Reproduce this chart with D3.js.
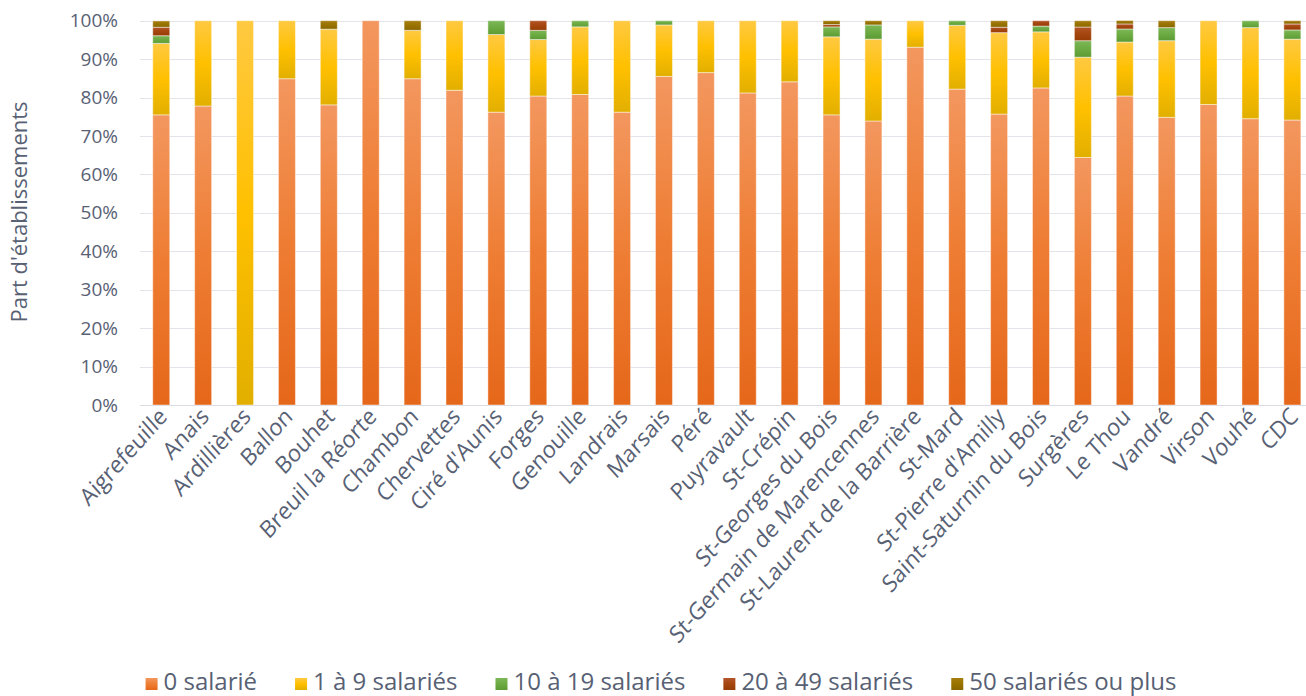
<!DOCTYPE html>
<html><head><meta charset="utf-8">
<script src="https://cdn.jsdelivr.net/npm/d3@7"></script>
<style>
html,body{margin:0;padding:0;background:#fff;}
svg{display:block;font-family:"Open Sans",sans-serif;}
</style></head>
<body>
<svg id="chart" width="1306" height="696"></svg>
<script>
const categories = ["Aigrefeuille","Anais","Ardillières","Ballon","Bouhet","Breuil la Réorte","Chambon","Chervettes","Ciré d'Aunis","Forges","Genouille","Landrais","Marsais","Péré","Puyravault","St-Crépin","St-Georges du Bois","St-Germain de Marencennes","St-Laurent de la Barrière","St-Mard","St-Pierre d'Amilly","Saint-Saturnin du Bois","Surgères","Le Thou","Vandré","Virson","Vouhé","CDC"];
const seriesNames = ["0 salarié","1 à 9 salariés","10 à 19 salariés","20 à 49 salariés","50 salariés ou plus"];
const s0 = [75.5,77.8,0,84.9,78.1,100,84.9,81.9,76.2,80.4,80.8,76.2,85.5,86.5,81.2,84.1,75.5,73.9,93.1,82.2,75.7,82.5,64.4,80.4,74.85,78.2,74.5,74.15];
const s1 = [18.6,22.2,100,15.1,19.7,0,12.6,18.1,20.2,14.7,17.6,23.8,13.4,13.5,18.8,15.9,20.3,21.3,6.9,16.6,21.2,14.6,26.1,14.05,19.95,21.8,23.7,21.05];
const s2 = [2.0,0,0,0,0,0,0,0,3.6,2.4,1.6,0,1.1,0,0,0,2.6,3.7,0,1.2,0,1.5,4.3,3.4,3.4,0,1.8,2.4];
const s3 = [2.2,0,0,0,0,0,0,0,0,2.5,0,0,0,0,0,0,0.6,0,0,0,1.4,1.4,3.55,1.3,0,0,0,1.55];
const s4 = [1.65,0,0,0,2.2,0,2.5,0,0,0,0,0,0,0,0,0,1.0,1.1,0,0,1.7,0,1.65,0.9,1.8,0,0,0.85];
const yTicks = [0,10,20,30,40,50,60,70,80,90,100];
const yTitle = "Part d'établissements";

const colors = [
  ["#F3975F","#EE7D33","#E5671A"],
  ["#FFC941","#FFC000","#E2AF00"],
  ["#7DB858","#6CAA42","#5C9A34"],
  ["#B3552A","#A5460E","#963C06"],
  ["#A67E10","#997300","#8A6700"]
];
const series = [s0,s1,s2,s3,s4];
const rows = categories.map((c,i)=>{const o={cat:c}; seriesNames.forEach((n,k)=>o[n]=series[k][i]); return o;});

const svg = d3.select("#chart");
const textColor = "#586174";
const defs = svg.append("defs");
colors.forEach((c,k)=>{
  const g = defs.append("linearGradient").attr("id","g"+k).attr("x1",0).attr("y1",0).attr("x2",0).attr("y2",1);
  g.append("stop").attr("offset","0%").attr("stop-color",c[0]);
  g.append("stop").attr("offset","50%").attr("stop-color",c[1]);
  g.append("stop").attr("offset","100%").attr("stop-color",c[2]);
});

const x = d3.scaleBand().domain(categories).range([140.3,1313.3]).paddingInner(0.594).paddingOuter(0.297);
const y = d3.scaleLinear().domain([0,100]).range([405,20.7]);

// gridlines
svg.append("g").selectAll("line").data(yTicks).join("line")
  .attr("x1",140).attr("x2",1306)
  .attr("y1",d=>Math.round(y(d))+0.5).attr("y2",d=>Math.round(y(d))+0.5)
  .attr("stroke",d=>d===0?"#D9DAE2":"#E3E3EA").attr("stroke-width",1);

// y axis labels
const yAxis = d3.axisLeft(y).tickValues(yTicks).tickFormat(d=>d+"%").tickSize(0).tickPadding(0);
const ya = svg.append("g").attr("transform","translate(118,0)").call(yAxis);
ya.select(".domain").remove();
ya.selectAll("text").attr("fill",textColor).style("font-size","19px").style("font-family","'Open Sans',sans-serif");

// y title
svg.append("text").attr("transform","translate(27,212) rotate(-90)").attr("text-anchor","middle")
  .attr("fill",textColor).style("font-size","22px").text(yTitle);

// bars
const stack = d3.stack().keys(seriesNames)(rows);
svg.append("g").selectAll("g").data(stack).join("g")
  .attr("fill",(d,k)=>`url(#g${k})`)
  .selectAll("rect").data(d=>d.filter(p=>p[1]-p[0]>0)).join("rect")
  .attr("x",d=>x(d.data.cat)).attr("width",x.bandwidth())
  .attr("y",d=>y(d[1])).attr("height",d=>y(d[0])-y(d[1]))
  .attr("stroke","rgba(255,255,255,0.45)").attr("stroke-width",1);

// x labels
const xAxis = d3.axisBottom(x).tickSize(0).tickPadding(0);
const xa = svg.append("g").attr("transform","translate(0,405)").call(xAxis);
xa.select(".domain").remove();
xa.selectAll("text").attr("fill",textColor).style("font-size","21.5px").style("font-family","'Open Sans',sans-serif")
  .attr("text-anchor","end").attr("dy",0).attr("y",0)
  .attr("transform","translate(7,13) scale(1,1.12) rotate(-45)");

// legend
const leg = svg.append("g");
const items = leg.selectAll("g").data(seriesNames).join("g");
items.append("rect").attr("width",12).attr("height",12).attr("y",-12).attr("fill",(d,k)=>`url(#g${k})`);
items.append("text").attr("x",18).attr("y",0).attr("fill",textColor).style("font-size","24px").text(d=>d);
let cx = 0;
const gap = 38;
items.each(function(){
  const w = this.getBBox().width;
  d3.select(this).attr("data-x",cx);
  cx += w + gap;
});
const total = cx - gap;
const start = 661 - total/2;
items.attr("transform",function(){return `translate(${start + (+this.getAttribute("data-x"))},690)`;});
</script>
</body></html>
